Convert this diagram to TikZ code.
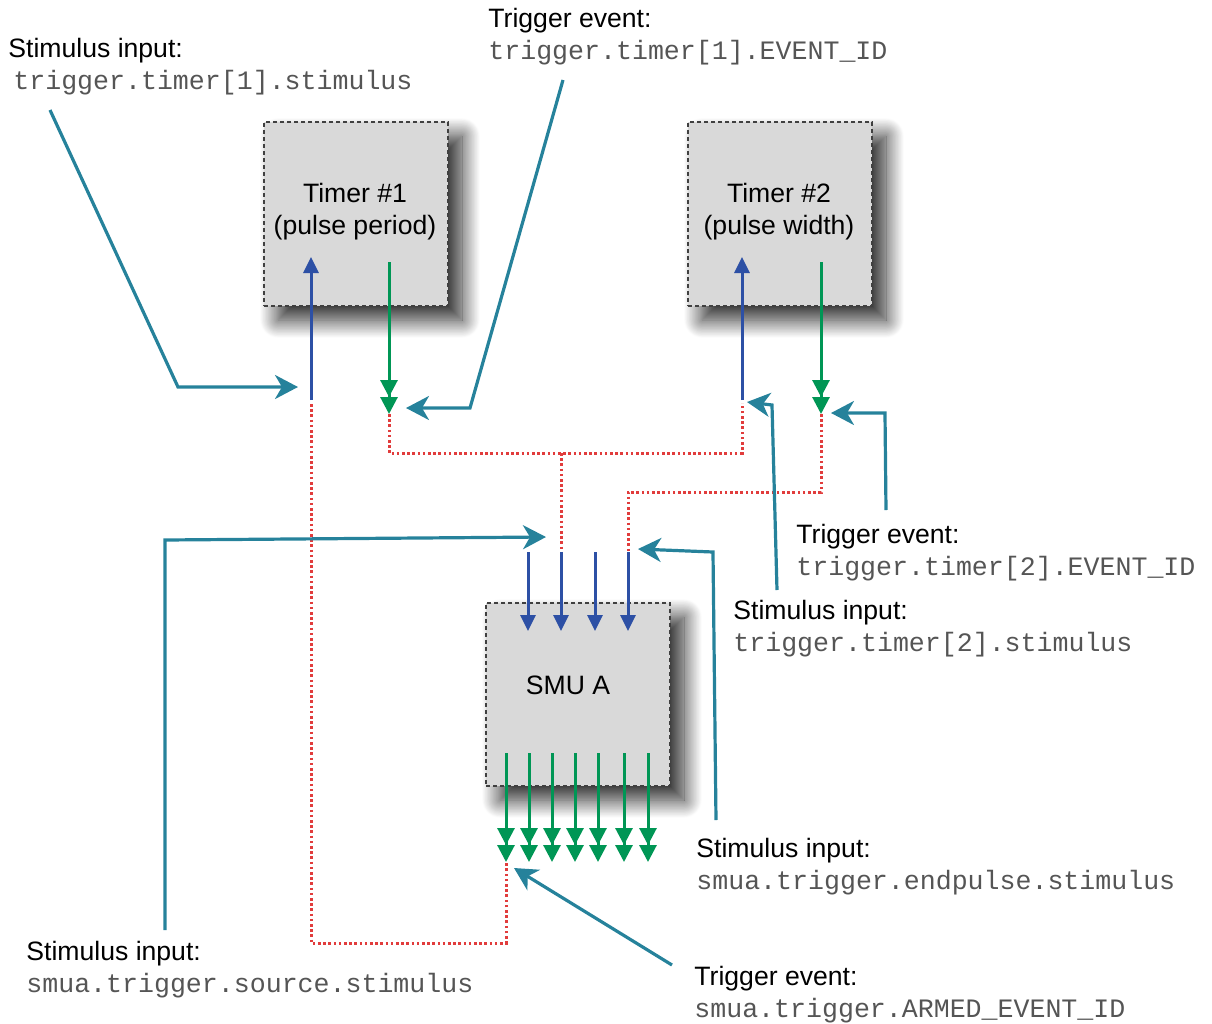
\documentclass[tikz,border=0pt]{standalone}
\usepackage{fontspec}
\setmainfont{Liberation Sans}
\setmonofont{Liberation Mono}
\usetikzlibrary{arrows.meta,shadows.blur}
\definecolor{tealc}{RGB}{38,130,155}
\definecolor{bluc}{RGB}{45,80,165}
\definecolor{grnc}{RGB}{0,150,85}
\definecolor{redc}{RGB}{225,60,60}
\definecolor{boxc}{RGB}{217,217,217}
\definecolor{monoc}{RGB}{85,85,85}
\begin{document}
\begin{tikzpicture}[x=0.5pt,y=-0.5pt,
  box/.style={draw=black!75,fill=boxc,line width=0.6pt,dash pattern=on 2pt off 1.5pt,
    minimum width=92pt,minimum height=92pt,inner sep=0pt,
    blur shadow={shadow xshift=7pt,shadow yshift=-7pt,shadow blur radius=9pt,shadow blur steps=30,shadow opacity=85}},
  boxtext/.style={font=\fontsize{13.3}{16}\selectfont,align=center,inner sep=0pt},
  lab/.style={font=\fontsize{13.3}{16}\selectfont,anchor=base west,inner sep=0pt},
  mono/.style={font=\fontsize{13.3}{16}\ttfamily,text=monoc,anchor=base west,inner sep=0pt},
  bluarr/.style={draw=bluc,line width=1.5pt,-{Triangle[length=8pt,width=7.5pt]}},
  grnarr/.style={draw=grnc,line width=1.5pt,-{Triangle[length=8.5pt,width=8.5pt]Triangle[length=8.5pt,width=8.5pt]}},
  reddot/.style={draw=redc,line width=1.5pt,dash pattern=on 1.3pt off 1.3pt},
  tealarr/.style={draw=tealc,line width=1.6pt,-{Stealth[length=11.5pt,width=12pt,inset=3.5pt]}}
]
\useasboundingbox (0,0) rectangle (1212,1024);

% boxes
\node[box] (t1) at (356,214) {};
\node[box] (t2) at (780,214) {};
\node[box,minimum height=91.5pt] (smu) at (578,694.5) {};
\node[boxtext] (t1txt) at (355,212) {Timer \#1\\(pulse period)};
\node[boxtext] (t2txt) at (779,212) {Timer \#2\\(pulse width)};
\node[boxtext] (smutxt) at (568,685) {SMU A};

% timer coordinates
\coordinate (b1s) at (311,400); \coordinate (b1e) at (311,257);
\coordinate (g1s) at (389,262); \coordinate (g1e) at (389,414);
\coordinate (b2s) at (742,400); \coordinate (b2e) at (742,257);
\coordinate (g2s) at (821,262); \coordinate (g2e) at (821,414);

% red dotted routes
\draw[reddot] (311,404) -- (311,943) -- (506,943) -- (506,862);
\draw[reddot] (g1e) -- (389,453) -- (742,453) -- (742,403);
\draw[reddot] (561,453) -- (561,552);
\draw[reddot] (g2e) -- (821,492) -- (628,492) -- (628,552);

% timer arrows
\draw[bluarr] (b1s) -- (b1e);
\draw[grnarr] (g1s) -- (g1e);
\draw[bluarr] (b2s) -- (b2e);
\draw[grnarr] (g2s) -- (g2e);

% SMU inputs
\foreach \x [count=\i] in {528,561,595,628}{
  \coordinate (si\i) at (\x,552); \coordinate (se\i) at (\x,631);
  \draw[bluarr] (si\i) -- (se\i);
}
% SMU outputs
\foreach \x [count=\i] in {506,529,552,575,598,624,648}{
  \coordinate (so\i) at (\x,753); \coordinate (oe\i) at (\x,862);
  \draw[grnarr] (so\i) -- (oe\i);
}

% labels
\node[lab] (l1a) at (8,57) {Stimulus input:};
\node[mono] (l1b) at (13,89) {trigger.timer[1].stimulus};
\node[lab] (l2a) at (488,27) {Trigger event:};
\node[mono] (l2b) at (488,59) {trigger.timer[1].EVENT\_ID};
\node[lab] (l3a) at (796,543) {Trigger event:};
\node[mono] (l3b) at (796,575) {trigger.timer[2].EVENT\_ID};
\node[lab] (l4a) at (733,619) {Stimulus input:};
\node[mono] (l4b) at (733,651) {trigger.timer[2].stimulus};
\node[lab] (l5a) at (696,857) {Stimulus input:};
\node[mono] (l5b) at (696,889) {smua.trigger.endpulse.stimulus};
\node[lab] (l6a) at (26,960) {Stimulus input:};
\node[mono] (l6b) at (26,992) {smua.trigger.source.stimulus};
\node[lab] (l7a) at (694,985) {Trigger event:};
\node[mono] (l7b) at (694,1017) {smua.trigger.ARMED\_EVENT\_ID};

% teal pointer coordinates
\coordinate (p1s) at (50,110);  \coordinate (p1t) at (298,387);
\coordinate (p2s) at (563,80);  \coordinate (p2t) at (406,408);
\coordinate (p3s) at (777,590); \coordinate (p3t) at (747,402);
\coordinate (p4s) at (886,510); \coordinate (p4t) at (831,413);
\coordinate (p5s) at (165,930); \coordinate (p5t) at (546,537);
\coordinate (p6s) at (716,820); \coordinate (p6t) at (638,549);
\coordinate (p7s) at (672,965); \coordinate (p7t) at (514,868);

\draw[tealarr] (p1s) -- (178,387) -- (p1t);
\draw[tealarr] (p2s) -- (470,408) -- (p2t);
\draw[tealarr] (p3s) -- (772,405) -- (p3t);
\draw[tealarr] (p4s) -- (885,413) -- (p4t);
\draw[tealarr] (p5s) -- (165,540) -- (p5t);
\draw[tealarr] (p6s) -- (713,552) -- (p6t);
\draw[tealarr] (p7s) -- (p7t);
\end{tikzpicture}
\end{document}
